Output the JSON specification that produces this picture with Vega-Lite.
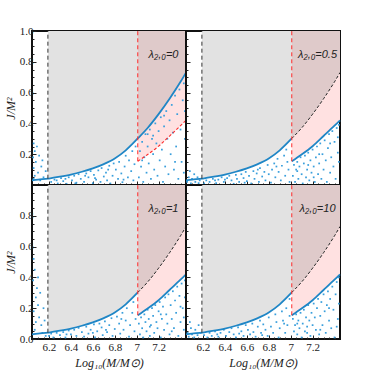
{
"$schema":"https://vega.github.io/schema/vega-lite/v6.json",
"padding":{"left":3,"top":24,"right":5,"bottom":3},
"background":"white",
"bounds":"flush",
"config":{"view":{"stroke":"#111","strokeWidth":2},
"axis":{"grid":false,"domain":false,"labelOverlap":false,"labelFont":"Liberation Serif","labelFontSize":11,"labelColor":"#222","titleFont":"Liberation Serif","titleFontStyle":"italic","titleFontWeight":"normal","titleFontSize":12,"titleColor":"#222","tickColor":"#222","tickSize":-4,"labelPadding":3,"titlePadding":2,"minExtent":0}},
"datasets":{
"curve":[{"x":6.045,"upper":0.03},{"x":6.1,"upper":0.035},{"x":6.19,"upper":0.041},{"x":6.2,"upper":0.042},{"x":6.3,"upper":0.054},{"x":6.4,"upper":0.068},{"x":6.5,"upper":0.086},{"x":6.6,"upper":0.108},{"x":6.7,"upper":0.136},{"x":6.8,"upper":0.172},{"x":6.9,"upper":0.225},{"x":7.01,"upper":0.302,"lower":0.154},{"x":7.1,"upper":0.37,"lower":0.198},{"x":7.2,"upper":0.46,"lower":0.252},{"x":7.3,"upper":0.56,"lower":0.318},{"x":7.4,"upper":0.67,"lower":0.385},{"x":7.45,"upper":0.73,"lower":0.42}],
"vlines":[{"x":6.19,"y":0.041,"y2":1,"kind":"black"},{"x":7.01,"y":0.154,"y2":1,"kind":"red"}],
"labels":[{"p":"A","label":"λ₂,₀=0"},{"p":"B","label":"λ₂,₀=0.5"},{"p":"C","label":"λ₂,₀=1"},{"p":"D","label":"λ₂,₀=10"}],
"pts":[
{"p":"A","x":6.06,"y":0.27},{"p":"A","x":6.07,"y":0.22},{"p":"A","x":6.055,"y":0.18},{"p":"A","x":6.09,"y":0.25},{"p":"A","x":6.08,"y":0.15},{"p":"A","x":6.06,"y":0.11},{"p":"A","x":6.11,"y":0.19},{"p":"A","x":6.1,"y":0.08},{"p":"A","x":6.13,"y":0.12},{"p":"A","x":6.07,"y":0.06},{"p":"A","x":6.15,"y":0.05},{"p":"A","x":6.12,"y":0.03},{"p":"A","x":6.17,"y":0.09},{"p":"A","x":6.06,"y":0.04},{"p":"A","x":6.14,"y":0.16},
{"p":"A","x":6.22,"y":0.02},{"p":"A","x":6.25,"y":0.035},{"p":"A","x":6.28,"y":0.01},{"p":"A","x":6.31,"y":0.045},{"p":"A","x":6.33,"y":0.025},{"p":"A","x":6.36,"y":0.008},{"p":"A","x":6.38,"y":0.05},{"p":"A","x":6.41,"y":0.03},{"p":"A","x":6.43,"y":0.06},{"p":"A","x":6.45,"y":0.015},{"p":"A","x":6.47,"y":0.07},{"p":"A","x":6.49,"y":0.04},{"p":"A","x":6.52,"y":0.02},{"p":"A","x":6.54,"y":0.075},{"p":"A","x":6.56,"y":0.05},{"p":"A","x":6.58,"y":0.09},{"p":"A","x":6.6,"y":0.012},{"p":"A","x":6.61,"y":0.065},{"p":"A","x":6.63,"y":0.035},{"p":"A","x":6.65,"y":0.095},{"p":"A","x":6.67,"y":0.02},{"p":"A","x":6.68,"y":0.11},{"p":"A","x":6.7,"y":0.055},{"p":"A","x":6.72,"y":0.08},{"p":"A","x":6.73,"y":0.03},{"p":"A","x":6.75,"y":0.125},{"p":"A","x":6.76,"y":0.01},{"p":"A","x":6.78,"y":0.06},{"p":"A","x":6.79,"y":0.14},{"p":"A","x":6.81,"y":0.1},{"p":"A","x":6.83,"y":0.04},{"p":"A","x":6.84,"y":0.15},{"p":"A","x":6.86,"y":0.075},{"p":"A","x":6.87,"y":0.018},{"p":"A","x":6.89,"y":0.12},{"p":"A","x":6.9,"y":0.19},{"p":"A","x":6.92,"y":0.05},{"p":"A","x":6.93,"y":0.16},{"p":"A","x":6.95,"y":0.09},{"p":"A","x":6.96,"y":0.22},{"p":"A","x":6.97,"y":0.03},{"p":"A","x":6.98,"y":0.135},{"p":"A","x":6.99,"y":0.25},{"p":"A","x":6.35,"y":0.04},{"p":"A","x":6.62,"y":0.045},{"p":"A","x":6.74,"y":0.1},{"p":"A","x":6.88,"y":0.035},{"p":"A","x":6.53,"y":0.06},{"p":"A","x":6.44,"y":0.01},{"p":"A","x":6.27,"y":0.03},
{"p":"A","x":7.02,"y":0.05},{"p":"A","x":7.03,"y":0.22},{"p":"A","x":7.04,"y":0.12},{"p":"A","x":7.05,"y":0.28},{"p":"A","x":7.06,"y":0.02},{"p":"A","x":7.07,"y":0.18},{"p":"A","x":7.08,"y":0.33},{"p":"A","x":7.09,"y":0.08},{"p":"A","x":7.1,"y":0.25},{"p":"A","x":7.11,"y":0.14},{"p":"A","x":7.12,"y":0.36},{"p":"A","x":7.13,"y":0.04},{"p":"A","x":7.14,"y":0.3},{"p":"A","x":7.15,"y":0.2},{"p":"A","x":7.16,"y":0.1},{"p":"A","x":7.17,"y":0.4},{"p":"A","x":7.18,"y":0.27},{"p":"A","x":7.19,"y":0.06},{"p":"A","x":7.2,"y":0.35},{"p":"A","x":7.21,"y":0.16},{"p":"A","x":7.22,"y":0.44},{"p":"A","x":7.23,"y":0.23},{"p":"A","x":7.24,"y":0.02},{"p":"A","x":7.25,"y":0.38},{"p":"A","x":7.26,"y":0.12},{"p":"A","x":7.27,"y":0.48},{"p":"A","x":7.28,"y":0.3},{"p":"A","x":7.29,"y":0.07},{"p":"A","x":7.3,"y":0.42},{"p":"A","x":7.31,"y":0.2},{"p":"A","x":7.32,"y":0.52},{"p":"A","x":7.33,"y":0.34},{"p":"A","x":7.34,"y":0.1},{"p":"A","x":7.35,"y":0.58},{"p":"A","x":7.36,"y":0.25},{"p":"A","x":7.37,"y":0.46},{"p":"A","x":7.38,"y":0.04},{"p":"A","x":7.39,"y":0.62},{"p":"A","x":7.4,"y":0.36},{"p":"A","x":7.41,"y":0.15},{"p":"A","x":7.42,"y":0.55},{"p":"A","x":7.43,"y":0.66},{"p":"A","x":7.44,"y":0.3},{"p":"A","x":7.44,"y":0.48},{"p":"A","x":7.43,"y":0.08},{"p":"A","x":7.15,"y":0.32},{"p":"A","x":7.25,"y":0.45},{"p":"A","x":7.35,"y":0.15},{"p":"A","x":7.05,"y":0.16},{"p":"A","x":7.1,"y":0.33},
{"p":"B","x":6.055,"y":0.02},{"p":"B","x":6.07,"y":0.05},{"p":"B","x":6.09,"y":0.01},{"p":"B","x":6.1,"y":0.04},{"p":"B","x":6.12,"y":0.07},{"p":"B","x":6.13,"y":0.02},{"p":"B","x":6.15,"y":0.05},{"p":"B","x":6.17,"y":0.03},{"p":"B","x":6.08,"y":0.09},{"p":"B","x":6.16,"y":0.012},
{"p":"B","x":6.21,"y":0.01},{"p":"B","x":6.23,"y":0.03},{"p":"B","x":6.26,"y":0.02},{"p":"B","x":6.29,"y":0.04},{"p":"B","x":6.32,"y":0.012},{"p":"B","x":6.34,"y":0.035},{"p":"B","x":6.37,"y":0.05},{"p":"B","x":6.39,"y":0.02},{"p":"B","x":6.42,"y":0.045},{"p":"B","x":6.44,"y":0.06},{"p":"B","x":6.46,"y":0.03},{"p":"B","x":6.48,"y":0.008},{"p":"B","x":6.5,"y":0.065},{"p":"B","x":6.51,"y":0.04},{"p":"B","x":6.53,"y":0.02},{"p":"B","x":6.55,"y":0.07},{"p":"B","x":6.57,"y":0.045},{"p":"B","x":6.59,"y":0.085},{"p":"B","x":6.6,"y":0.025},{"p":"B","x":6.62,"y":0.06},{"p":"B","x":6.64,"y":0.01},{"p":"B","x":6.66,"y":0.09},{"p":"B","x":6.67,"y":0.04},{"p":"B","x":6.69,"y":0.075},{"p":"B","x":6.71,"y":0.02},{"p":"B","x":6.72,"y":0.11},{"p":"B","x":6.74,"y":0.055},{"p":"B","x":6.76,"y":0.085},{"p":"B","x":6.77,"y":0.03},{"p":"B","x":6.79,"y":0.13},{"p":"B","x":6.8,"y":0.07},{"p":"B","x":6.82,"y":0.015},{"p":"B","x":6.83,"y":0.1},{"p":"B","x":6.85,"y":0.14},{"p":"B","x":6.86,"y":0.05},{"p":"B","x":6.88,"y":0.17},{"p":"B","x":6.89,"y":0.085},{"p":"B","x":6.91,"y":0.03},{"p":"B","x":6.92,"y":0.125},{"p":"B","x":6.94,"y":0.19},{"p":"B","x":6.95,"y":0.06},{"p":"B","x":6.97,"y":0.15},{"p":"B","x":6.98,"y":0.1},{"p":"B","x":6.99,"y":0.02},{"p":"B","x":6.4,"y":0.035},{"p":"B","x":6.58,"y":0.015},{"p":"B","x":6.7,"y":0.1},{"p":"B","x":6.87,"y":0.12},{"p":"B","x":6.96,"y":0.23},{"p":"B","x":6.31,"y":0.03},
{"p":"B","x":7.02,"y":0.06},{"p":"B","x":7.03,"y":0.13},{"p":"B","x":7.04,"y":0.02},{"p":"B","x":7.05,"y":0.1},{"p":"B","x":7.06,"y":0.15},{"p":"B","x":7.07,"y":0.04},{"p":"B","x":7.08,"y":0.12},{"p":"B","x":7.09,"y":0.18},{"p":"B","x":7.1,"y":0.07},{"p":"B","x":7.11,"y":0.01},{"p":"B","x":7.12,"y":0.14},{"p":"B","x":7.13,"y":0.19},{"p":"B","x":7.14,"y":0.05},{"p":"B","x":7.15,"y":0.1},{"p":"B","x":7.16,"y":0.21},{"p":"B","x":7.17,"y":0.03},{"p":"B","x":7.18,"y":0.16},{"p":"B","x":7.19,"y":0.08},{"p":"B","x":7.2,"y":0.23},{"p":"B","x":7.21,"y":0.12},{"p":"B","x":7.22,"y":0.02},{"p":"B","x":7.23,"y":0.18},{"p":"B","x":7.24,"y":0.25},{"p":"B","x":7.25,"y":0.07},{"p":"B","x":7.26,"y":0.14},{"p":"B","x":7.27,"y":0.27},{"p":"B","x":7.28,"y":0.04},{"p":"B","x":7.29,"y":0.2},{"p":"B","x":7.3,"y":0.1},{"p":"B","x":7.31,"y":0.29},{"p":"B","x":7.32,"y":0.16},{"p":"B","x":7.33,"y":0.02},{"p":"B","x":7.34,"y":0.24},{"p":"B","x":7.35,"y":0.33},{"p":"B","x":7.36,"y":0.08},{"p":"B","x":7.37,"y":0.18},{"p":"B","x":7.38,"y":0.35},{"p":"B","x":7.39,"y":0.12},{"p":"B","x":7.4,"y":0.28},{"p":"B","x":7.41,"y":0.04},{"p":"B","x":7.42,"y":0.37},{"p":"B","x":7.43,"y":0.21},{"p":"B","x":7.44,"y":0.39},{"p":"B","x":7.44,"y":0.15},{"p":"B","x":7.43,"y":0.31},{"p":"B","x":7.06,"y":0.09},{"p":"B","x":7.16,"y":0.13},{"p":"B","x":7.26,"y":0.2},{"p":"B","x":7.36,"y":0.27},{"p":"B","x":7.21,"y":0.05},
{"p":"C","x":6.06,"y":0.52},{"p":"C","x":6.07,"y":0.45},{"p":"C","x":6.055,"y":0.38},{"p":"C","x":6.09,"y":0.33},{"p":"C","x":6.08,"y":0.27},{"p":"C","x":6.1,"y":0.22},{"p":"C","x":6.06,"y":0.18},{"p":"C","x":6.12,"y":0.3},{"p":"C","x":6.11,"y":0.14},{"p":"C","x":6.13,"y":0.09},{"p":"C","x":6.07,"y":0.06},{"p":"C","x":6.15,"y":0.2},{"p":"C","x":6.14,"y":0.04},{"p":"C","x":6.16,"y":0.12},{"p":"C","x":6.17,"y":0.02},{"p":"C","x":6.08,"y":0.11},{"p":"C","x":6.1,"y":0.4},
{"p":"C","x":6.2,"y":0.02},{"p":"C","x":6.22,"y":0.035},{"p":"C","x":6.24,"y":0.01},{"p":"C","x":6.27,"y":0.04},{"p":"C","x":6.3,"y":0.025},{"p":"C","x":6.33,"y":0.045},{"p":"C","x":6.35,"y":0.01},{"p":"C","x":6.38,"y":0.055},{"p":"C","x":6.4,"y":0.03},{"p":"C","x":6.43,"y":0.06},{"p":"C","x":6.45,"y":0.02},{"p":"C","x":6.47,"y":0.072},{"p":"C","x":6.5,"y":0.045},{"p":"C","x":6.52,"y":0.015},{"p":"C","x":6.54,"y":0.08},{"p":"C","x":6.56,"y":0.035},{"p":"C","x":6.58,"y":0.06},{"p":"C","x":6.61,"y":0.095},{"p":"C","x":6.62,"y":0.01},{"p":"C","x":6.64,"y":0.05},{"p":"C","x":6.66,"y":0.1},{"p":"C","x":6.68,"y":0.075},{"p":"C","x":6.69,"y":0.025},{"p":"C","x":6.71,"y":0.115},{"p":"C","x":6.73,"y":0.045},{"p":"C","x":6.75,"y":0.09},{"p":"C","x":6.77,"y":0.135},{"p":"C","x":6.78,"y":0.02},{"p":"C","x":6.8,"y":0.065},{"p":"C","x":6.82,"y":0.145},{"p":"C","x":6.84,"y":0.1},{"p":"C","x":6.85,"y":0.035},{"p":"C","x":6.87,"y":0.17},{"p":"C","x":6.88,"y":0.06},{"p":"C","x":6.9,"y":0.12},{"p":"C","x":6.91,"y":0.2},{"p":"C","x":6.93,"y":0.015},{"p":"C","x":6.94,"y":0.09},{"p":"C","x":6.96,"y":0.17},{"p":"C","x":6.97,"y":0.24},{"p":"C","x":6.98,"y":0.05},{"p":"C","x":6.99,"y":0.13},{"p":"C","x":6.36,"y":0.03},{"p":"C","x":6.6,"y":0.04},{"p":"C","x":6.72,"y":0.06},{"p":"C","x":6.86,"y":0.13},
{"p":"C","x":7.02,"y":0.1},{"p":"C","x":7.03,"y":0.03},{"p":"C","x":7.04,"y":0.14},{"p":"C","x":7.05,"y":0.07},{"p":"C","x":7.06,"y":0.01},{"p":"C","x":7.07,"y":0.16},{"p":"C","x":7.08,"y":0.11},{"p":"C","x":7.09,"y":0.05},{"p":"C","x":7.1,"y":0.19},{"p":"C","x":7.11,"y":0.13},{"p":"C","x":7.12,"y":0.02},{"p":"C","x":7.13,"y":0.09},{"p":"C","x":7.14,"y":0.2},{"p":"C","x":7.15,"y":0.15},{"p":"C","x":7.16,"y":0.04},{"p":"C","x":7.17,"y":0.22},{"p":"C","x":7.18,"y":0.11},{"p":"C","x":7.19,"y":0.07},{"p":"C","x":7.2,"y":0.18},{"p":"C","x":7.21,"y":0.24},{"p":"C","x":7.22,"y":0.01},{"p":"C","x":7.23,"y":0.13},{"p":"C","x":7.24,"y":0.21},{"p":"C","x":7.25,"y":0.06},{"p":"C","x":7.26,"y":0.27},{"p":"C","x":7.27,"y":0.16},{"p":"C","x":7.28,"y":0.1},{"p":"C","x":7.29,"y":0.29},{"p":"C","x":7.3,"y":0.03},{"p":"C","x":7.31,"y":0.22},{"p":"C","x":7.32,"y":0.13},{"p":"C","x":7.33,"y":0.31},{"p":"C","x":7.34,"y":0.07},{"p":"C","x":7.35,"y":0.25},{"p":"C","x":7.36,"y":0.17},{"p":"C","x":7.37,"y":0.34},{"p":"C","x":7.38,"y":0.02},{"p":"C","x":7.39,"y":0.28},{"p":"C","x":7.4,"y":0.11},{"p":"C","x":7.41,"y":0.36},{"p":"C","x":7.42,"y":0.2},{"p":"C","x":7.43,"y":0.06},{"p":"C","x":7.44,"y":0.38},{"p":"C","x":7.44,"y":0.27},{"p":"C","x":7.43,"y":0.14},{"p":"C","x":7.12,"y":0.08},{"p":"C","x":7.22,"y":0.16},{"p":"C","x":7.32,"y":0.05},{"p":"C","x":7.4,"y":0.21},
{"p":"D","x":6.06,"y":0.04},{"p":"D","x":6.07,"y":0.015},{"p":"D","x":6.09,"y":0.07},{"p":"D","x":6.1,"y":0.03},{"p":"D","x":6.12,"y":0.01},{"p":"D","x":6.13,"y":0.06},{"p":"D","x":6.15,"y":0.025},{"p":"D","x":6.16,"y":0.09},{"p":"D","x":6.18,"y":0.04},{"p":"D","x":6.08,"y":0.11},
{"p":"D","x":6.21,"y":0.025},{"p":"D","x":6.24,"y":0.01},{"p":"D","x":6.26,"y":0.04},{"p":"D","x":6.28,"y":0.02},{"p":"D","x":6.31,"y":0.05},{"p":"D","x":6.34,"y":0.015},{"p":"D","x":6.36,"y":0.04},{"p":"D","x":6.39,"y":0.06},{"p":"D","x":6.41,"y":0.02},{"p":"D","x":6.44,"y":0.045},{"p":"D","x":6.46,"y":0.07},{"p":"D","x":6.48,"y":0.03},{"p":"D","x":6.5,"y":0.01},{"p":"D","x":6.52,"y":0.075},{"p":"D","x":6.55,"y":0.05},{"p":"D","x":6.57,"y":0.02},{"p":"D","x":6.59,"y":0.09},{"p":"D","x":6.61,"y":0.06},{"p":"D","x":6.63,"y":0.03},{"p":"D","x":6.65,"y":0.1},{"p":"D","x":6.66,"y":0.045},{"p":"D","x":6.68,"y":0.015},{"p":"D","x":6.7,"y":0.08},{"p":"D","x":6.72,"y":0.12},{"p":"D","x":6.73,"y":0.04},{"p":"D","x":6.75,"y":0.095},{"p":"D","x":6.77,"y":0.06},{"p":"D","x":6.79,"y":0.02},{"p":"D","x":6.8,"y":0.14},{"p":"D","x":6.82,"y":0.08},{"p":"D","x":6.84,"y":0.04},{"p":"D","x":6.86,"y":0.16},{"p":"D","x":6.87,"y":0.11},{"p":"D","x":6.89,"y":0.01},{"p":"D","x":6.9,"y":0.07},{"p":"D","x":6.92,"y":0.18},{"p":"D","x":6.93,"y":0.12},{"p":"D","x":6.95,"y":0.04},{"p":"D","x":6.96,"y":0.2},{"p":"D","x":6.97,"y":0.09},{"p":"D","x":6.99,"y":0.15},{"p":"D","x":6.99,"y":0.26},{"p":"D","x":6.33,"y":0.03},{"p":"D","x":6.53,"y":0.035},{"p":"D","x":6.74,"y":0.025},{"p":"D","x":6.94,"y":0.1},
{"p":"D","x":7.02,"y":0.13},{"p":"D","x":7.03,"y":0.05},{"p":"D","x":7.04,"y":0.09},{"p":"D","x":7.05,"y":0.16},{"p":"D","x":7.06,"y":0.03},{"p":"D","x":7.07,"y":0.12},{"p":"D","x":7.08,"y":0.07},{"p":"D","x":7.09,"y":0.17},{"p":"D","x":7.1,"y":0.01},{"p":"D","x":7.11,"y":0.1},{"p":"D","x":7.12,"y":0.19},{"p":"D","x":7.13,"y":0.05},{"p":"D","x":7.14,"y":0.14},{"p":"D","x":7.15,"y":0.08},{"p":"D","x":7.16,"y":0.22},{"p":"D","x":7.17,"y":0.12},{"p":"D","x":7.18,"y":0.02},{"p":"D","x":7.19,"y":0.17},{"p":"D","x":7.2,"y":0.09},{"p":"D","x":7.21,"y":0.23},{"p":"D","x":7.22,"y":0.14},{"p":"D","x":7.23,"y":0.06},{"p":"D","x":7.24,"y":0.2},{"p":"D","x":7.25,"y":0.26},{"p":"D","x":7.26,"y":0.03},{"p":"D","x":7.27,"y":0.15},{"p":"D","x":7.28,"y":0.24},{"p":"D","x":7.29,"y":0.09},{"p":"D","x":7.3,"y":0.29},{"p":"D","x":7.31,"y":0.18},{"p":"D","x":7.32,"y":0.04},{"p":"D","x":7.33,"y":0.22},{"p":"D","x":7.34,"y":0.31},{"p":"D","x":7.35,"y":0.12},{"p":"D","x":7.36,"y":0.26},{"p":"D","x":7.37,"y":0.07},{"p":"D","x":7.38,"y":0.34},{"p":"D","x":7.39,"y":0.19},{"p":"D","x":7.4,"y":0.01},{"p":"D","x":7.41,"y":0.29},{"p":"D","x":7.42,"y":0.37},{"p":"D","x":7.43,"y":0.13},{"p":"D","x":7.44,"y":0.4},{"p":"D","x":7.44,"y":0.23},{"p":"D","x":7.06,"y":0.1},{"p":"D","x":7.15,"y":0.04},{"p":"D","x":7.27,"y":0.06},{"p":"D","x":7.35,"y":0.2},{"p":"D","x":7.42,"y":0.08}
]},
"columns":2,
"spacing":0,
"concat":[
{"width":154,"height":154,
"layer":[
{"data":{"name":"curve"},"transform":[{"filter":"datum.x>=6.19 && datum.x<=7.01"}],"mark":{"type":"area","color":"#e2e2e2","interpolate":"monotone"},"encoding":{"x":{"field":"x","type":"quantitative","scale":{"domain":[6.045,7.45],"nice":false,"zero":false},"axis":{"values":[6.1,6.15,6.2,6.25,6.3,6.35,6.4,6.45,6.5,6.55,6.6,6.65,6.7,6.75,6.8,6.85,6.9,6.95,7,7.05,7.1,7.15,7.2,7.25,7.3,7.35,7.4],"tickCount":100,"labels":false,"title":null,"maxExtent":0,"labelOverlap":false,"tickSize":{"condition":{"test":"abs(datum.value*5-round(datum.value*5))<0.001 && datum.value<7.3","value":-4},"value":-2}}},"y":{"field":"upper","type":"quantitative","scale":{"domain":[0,1],"nice":false},"axis":{"values":[0.05,0.1,0.15,0.2,0.25,0.3,0.35,0.4,0.45,0.5,0.55,0.6,0.65,0.7,0.75,0.8,0.85,0.9,0.95,1],"tickCount":100,"labelExpr":"abs(datum.value*5-round(datum.value*5))<0.001 ? format(datum.value,'.1f') : ''","title":"J/M²","labelOverlap":false,"tickSize":{"condition":{"test":"abs(datum.value*5-round(datum.value*5))<0.001","value":-4},"value":-2}}},"y2":{"datum":1}}},
{"data":{"name":"curve"},"transform":[{"filter":"datum.x>=7.01"}],"mark":{"type":"area","color":"#dfcaca","interpolate":"monotone"},"encoding":{"x":{"field":"x","type":"quantitative"},"y":{"field":"upper","type":"quantitative"},"y2":{"datum":1}}},
{"data":{"name":"curve"},"transform":[{"filter":"datum.x>=7.01"}],"mark":{"type":"area","color":"#ffe1e1","interpolate":"monotone"},"encoding":{"x":{"field":"x","type":"quantitative"},"y":{"field":"lower","type":"quantitative"},"y2":{"field":"upper"}}},
{"data":{"name":"pts"},"transform":[{"filter":"datum.p=='A'"}],"mark":{"type":"point","shape":"square","filled":true,"size":3,"color":"#3a9fdc","opacity":1},"encoding":{"x":{"field":"x","type":"quantitative"},"y":{"field":"y","type":"quantitative"}}},
{"data":{"name":"curve"},"mark":{"type":"line","color":"#1f86c6","strokeWidth":1.8,"interpolate":"monotone"},"encoding":{"x":{"field":"x","type":"quantitative"},"y":{"field":"upper","type":"quantitative"}}},
{"data":{"name":"curve"},"transform":[{"filter":"datum.x>=7.01"}],"mark":{"type":"line","color":"#ff2a2a","strokeWidth":1.1,"strokeDash":[3,2],"interpolate":"monotone"},"encoding":{"x":{"field":"x","type":"quantitative"},"y":{"field":"lower","type":"quantitative"}}},
{"data":{"name":"vlines"},"mark":{"type":"rule","strokeWidth":1,"strokeDash":[4,3]},"encoding":{"x":{"field":"x","type":"quantitative"},"y":{"field":"y","type":"quantitative"},"y2":{"field":"y2"},"color":{"field":"kind","type":"nominal","scale":{"domain":["black","red"],"range":["#333333","#ff2a2a"]},"legend":null}}},
{"data":{"name":"labels"},"transform":[{"filter":"datum.p=='A'"}],"mark":{"type":"text","font":"Liberation Sans","fontStyle":"italic","fontSize":11,"color":"#222","align":"center","baseline":"middle"},"encoding":{"x":{"datum":7.245,"type":"quantitative"},"y":{"datum":0.845,"type":"quantitative"},"text":{"field":"label"}}}
]},
{"width":154,"height":154,
"layer":[
{"data":{"name":"curve"},"transform":[{"filter":"datum.x>=6.19 && datum.x<=7.01"}],"mark":{"type":"area","color":"#e2e2e2","interpolate":"monotone"},"encoding":{"x":{"field":"x","type":"quantitative","scale":{"domain":[6.045,7.45],"nice":false,"zero":false},"axis":{"values":[6.1,6.15,6.2,6.25,6.3,6.35,6.4,6.45,6.5,6.55,6.6,6.65,6.7,6.75,6.8,6.85,6.9,6.95,7,7.05,7.1,7.15,7.2,7.25,7.3,7.35,7.4],"tickCount":100,"labels":false,"title":null,"maxExtent":0,"tickSize":{"condition":{"test":"abs(datum.value*5-round(datum.value*5))<0.001 && datum.value<7.3","value":-4},"value":-2}}},"y":{"field":"upper","type":"quantitative","scale":{"domain":[0,1],"nice":false},"axis":{"values":[0.05,0.1,0.15,0.2,0.25,0.3,0.35,0.4,0.45,0.5,0.55,0.6,0.65,0.7,0.75,0.8,0.85,0.9,0.95],"tickCount":100,"labels":false,"title":null,"maxExtent":0,"tickSize":{"condition":{"test":"abs(datum.value*5-round(datum.value*5))<0.001","value":-4},"value":-2}}},"y2":{"datum":1}}},
{"data":{"name":"curve"},"transform":[{"filter":"datum.x>=7.01"}],"mark":{"type":"area","color":"#dfcaca","interpolate":"monotone"},"encoding":{"x":{"field":"x","type":"quantitative"},"y":{"field":"upper","type":"quantitative"},"y2":{"datum":1}}},
{"data":{"name":"curve"},"transform":[{"filter":"datum.x>=7.01"}],"mark":{"type":"area","color":"#ffe1e1","interpolate":"monotone"},"encoding":{"x":{"field":"x","type":"quantitative"},"y":{"field":"lower","type":"quantitative"},"y2":{"field":"upper"}}},
{"data":{"name":"pts"},"transform":[{"filter":"datum.p=='B'"}],"mark":{"type":"point","shape":"square","filled":true,"size":3,"color":"#3a9fdc","opacity":1},"encoding":{"x":{"field":"x","type":"quantitative"},"y":{"field":"y","type":"quantitative"}}},
{"data":{"name":"curve"},"transform":[{"filter":"datum.x<=7.01"}],"mark":{"type":"line","color":"#1f86c6","strokeWidth":1.8,"interpolate":"monotone"},"encoding":{"x":{"field":"x","type":"quantitative"},"y":{"field":"upper","type":"quantitative"}}},
{"data":{"name":"curve"},"transform":[{"filter":"datum.x>=7.01"}],"mark":{"type":"line","color":"#1f86c6","strokeWidth":1.8,"interpolate":"monotone"},"encoding":{"x":{"field":"x","type":"quantitative"},"y":{"field":"lower","type":"quantitative"}}},
{"data":{"name":"curve"},"transform":[{"filter":"datum.x>=7.01"}],"mark":{"type":"line","color":"#222222","strokeWidth":1,"strokeDash":[3,2],"interpolate":"monotone"},"encoding":{"x":{"field":"x","type":"quantitative"},"y":{"field":"upper","type":"quantitative"}}},
{"data":{"name":"vlines"},"mark":{"type":"rule","strokeWidth":1,"strokeDash":[4,3]},"encoding":{"x":{"field":"x","type":"quantitative"},"y":{"field":"y","type":"quantitative"},"y2":{"field":"y2"},"color":{"field":"kind","type":"nominal","scale":{"domain":["black","red"],"range":["#333333","#ff2a2a"]},"legend":null}}},
{"data":{"name":"labels"},"transform":[{"filter":"datum.p=='B'"}],"mark":{"type":"text","font":"Liberation Sans","fontStyle":"italic","fontSize":11,"color":"#222","align":"center","baseline":"middle"},"encoding":{"x":{"datum":7.245,"type":"quantitative"},"y":{"datum":0.845,"type":"quantitative"},"text":{"field":"label"}}}
]},
{"width":154,"height":154,
"layer":[
{"data":{"name":"curve"},"transform":[{"filter":"datum.x>=6.19 && datum.x<=7.01"}],"mark":{"type":"area","color":"#e2e2e2","interpolate":"monotone"},"encoding":{"x":{"field":"x","type":"quantitative","scale":{"domain":[6.045,7.45],"nice":false,"zero":false},"axis":{"values":[6.1,6.15,6.2,6.25,6.3,6.35,6.4,6.45,6.5,6.55,6.6,6.65,6.7,6.75,6.8,6.85,6.9,6.95,7,7.05,7.1,7.15,7.2,7.25,7.3,7.35,7.4],"tickCount":100,"labelExpr":"abs(datum.value*5-round(datum.value*5))<0.001 && datum.value<7.3 ? format(datum.value,'~g') : ''","title":"Log₁₀(M/M⊙)","labelOverlap":false,"labelPadding":6,"titlePadding":3,"tickSize":{"condition":{"test":"abs(datum.value*5-round(datum.value*5))<0.001 && datum.value<7.3","value":-4},"value":-2}}},"y":{"field":"upper","type":"quantitative","scale":{"domain":[0,1],"nice":false},"axis":{"values":[0,0.05,0.1,0.15,0.2,0.25,0.3,0.35,0.4,0.45,0.5,0.55,0.6,0.65,0.7,0.75,0.8,0.85,0.9,0.95],"tickCount":100,"labelExpr":"abs(datum.value*5-round(datum.value*5))<0.001 ? format(datum.value,'.1f') : ''","title":"J/M²","labelOverlap":false,"tickSize":{"condition":{"test":"abs(datum.value*5-round(datum.value*5))<0.001","value":-4},"value":-2}}},"y2":{"datum":1}}},
{"data":{"name":"curve"},"transform":[{"filter":"datum.x>=7.01"}],"mark":{"type":"area","color":"#dfcaca","interpolate":"monotone"},"encoding":{"x":{"field":"x","type":"quantitative"},"y":{"field":"upper","type":"quantitative"},"y2":{"datum":1}}},
{"data":{"name":"curve"},"transform":[{"filter":"datum.x>=7.01"}],"mark":{"type":"area","color":"#ffe1e1","interpolate":"monotone"},"encoding":{"x":{"field":"x","type":"quantitative"},"y":{"field":"lower","type":"quantitative"},"y2":{"field":"upper"}}},
{"data":{"name":"pts"},"transform":[{"filter":"datum.p=='C'"}],"mark":{"type":"point","shape":"square","filled":true,"size":3,"color":"#3a9fdc","opacity":1},"encoding":{"x":{"field":"x","type":"quantitative"},"y":{"field":"y","type":"quantitative"}}},
{"data":{"name":"curve"},"transform":[{"filter":"datum.x<=7.01"}],"mark":{"type":"line","color":"#1f86c6","strokeWidth":1.8,"interpolate":"monotone"},"encoding":{"x":{"field":"x","type":"quantitative"},"y":{"field":"upper","type":"quantitative"}}},
{"data":{"name":"curve"},"transform":[{"filter":"datum.x>=7.01"}],"mark":{"type":"line","color":"#1f86c6","strokeWidth":1.8,"interpolate":"monotone"},"encoding":{"x":{"field":"x","type":"quantitative"},"y":{"field":"lower","type":"quantitative"}}},
{"data":{"name":"curve"},"transform":[{"filter":"datum.x>=7.01"}],"mark":{"type":"line","color":"#222222","strokeWidth":1,"strokeDash":[3,2],"interpolate":"monotone"},"encoding":{"x":{"field":"x","type":"quantitative"},"y":{"field":"upper","type":"quantitative"}}},
{"data":{"name":"vlines"},"mark":{"type":"rule","strokeWidth":1,"strokeDash":[4,3]},"encoding":{"x":{"field":"x","type":"quantitative"},"y":{"field":"y","type":"quantitative"},"y2":{"field":"y2"},"color":{"field":"kind","type":"nominal","scale":{"domain":["black","red"],"range":["#333333","#ff2a2a"]},"legend":null}}},
{"data":{"name":"labels"},"transform":[{"filter":"datum.p=='C'"}],"mark":{"type":"text","font":"Liberation Sans","fontStyle":"italic","fontSize":11,"color":"#222","align":"center","baseline":"middle"},"encoding":{"x":{"datum":7.245,"type":"quantitative"},"y":{"datum":0.845,"type":"quantitative"},"text":{"field":"label"}}}
]},
{"width":154,"height":154,
"layer":[
{"data":{"name":"curve"},"transform":[{"filter":"datum.x>=6.19 && datum.x<=7.01"}],"mark":{"type":"area","color":"#e2e2e2","interpolate":"monotone"},"encoding":{"x":{"field":"x","type":"quantitative","scale":{"domain":[6.045,7.45],"nice":false,"zero":false},"axis":{"values":[6.1,6.15,6.2,6.25,6.3,6.35,6.4,6.45,6.5,6.55,6.6,6.65,6.7,6.75,6.8,6.85,6.9,6.95,7,7.05,7.1,7.15,7.2,7.25,7.3,7.35,7.4],"tickCount":100,"labelExpr":"abs(datum.value*5-round(datum.value*5))<0.001 && datum.value<7.3 ? format(datum.value,'~g') : ''","title":"Log₁₀(M/M⊙)","labelOverlap":false,"labelPadding":6,"titlePadding":3,"tickSize":{"condition":{"test":"abs(datum.value*5-round(datum.value*5))<0.001 && datum.value<7.3","value":-4},"value":-2}}},"y":{"field":"upper","type":"quantitative","scale":{"domain":[0,1],"nice":false},"axis":{"values":[0.05,0.1,0.15,0.2,0.25,0.3,0.35,0.4,0.45,0.5,0.55,0.6,0.65,0.7,0.75,0.8,0.85,0.9,0.95],"tickCount":100,"labels":false,"title":null,"maxExtent":0,"tickSize":{"condition":{"test":"abs(datum.value*5-round(datum.value*5))<0.001","value":-4},"value":-2}}},"y2":{"datum":1}}},
{"data":{"name":"curve"},"transform":[{"filter":"datum.x>=7.01"}],"mark":{"type":"area","color":"#dfcaca","interpolate":"monotone"},"encoding":{"x":{"field":"x","type":"quantitative"},"y":{"field":"upper","type":"quantitative"},"y2":{"datum":1}}},
{"data":{"name":"curve"},"transform":[{"filter":"datum.x>=7.01"}],"mark":{"type":"area","color":"#ffe1e1","interpolate":"monotone"},"encoding":{"x":{"field":"x","type":"quantitative"},"y":{"field":"lower","type":"quantitative"},"y2":{"field":"upper"}}},
{"data":{"name":"pts"},"transform":[{"filter":"datum.p=='D'"}],"mark":{"type":"point","shape":"square","filled":true,"size":3,"color":"#3a9fdc","opacity":1},"encoding":{"x":{"field":"x","type":"quantitative"},"y":{"field":"y","type":"quantitative"}}},
{"data":{"name":"curve"},"transform":[{"filter":"datum.x<=7.01"}],"mark":{"type":"line","color":"#1f86c6","strokeWidth":1.8,"interpolate":"monotone"},"encoding":{"x":{"field":"x","type":"quantitative"},"y":{"field":"upper","type":"quantitative"}}},
{"data":{"name":"curve"},"transform":[{"filter":"datum.x>=7.01"}],"mark":{"type":"line","color":"#1f86c6","strokeWidth":1.8,"interpolate":"monotone"},"encoding":{"x":{"field":"x","type":"quantitative"},"y":{"field":"lower","type":"quantitative"}}},
{"data":{"name":"curve"},"transform":[{"filter":"datum.x>=7.01"}],"mark":{"type":"line","color":"#222222","strokeWidth":1,"strokeDash":[3,2],"interpolate":"monotone"},"encoding":{"x":{"field":"x","type":"quantitative"},"y":{"field":"upper","type":"quantitative"}}},
{"data":{"name":"vlines"},"mark":{"type":"rule","strokeWidth":1,"strokeDash":[4,3]},"encoding":{"x":{"field":"x","type":"quantitative"},"y":{"field":"y","type":"quantitative"},"y2":{"field":"y2"},"color":{"field":"kind","type":"nominal","scale":{"domain":["black","red"],"range":["#333333","#ff2a2a"]},"legend":null}}},
{"data":{"name":"labels"},"transform":[{"filter":"datum.p=='D'"}],"mark":{"type":"text","font":"Liberation Sans","fontStyle":"italic","fontSize":11,"color":"#222","align":"center","baseline":"middle"},"encoding":{"x":{"datum":7.245,"type":"quantitative"},"y":{"datum":0.845,"type":"quantitative"},"text":{"field":"label"}}}
]}
]
}
